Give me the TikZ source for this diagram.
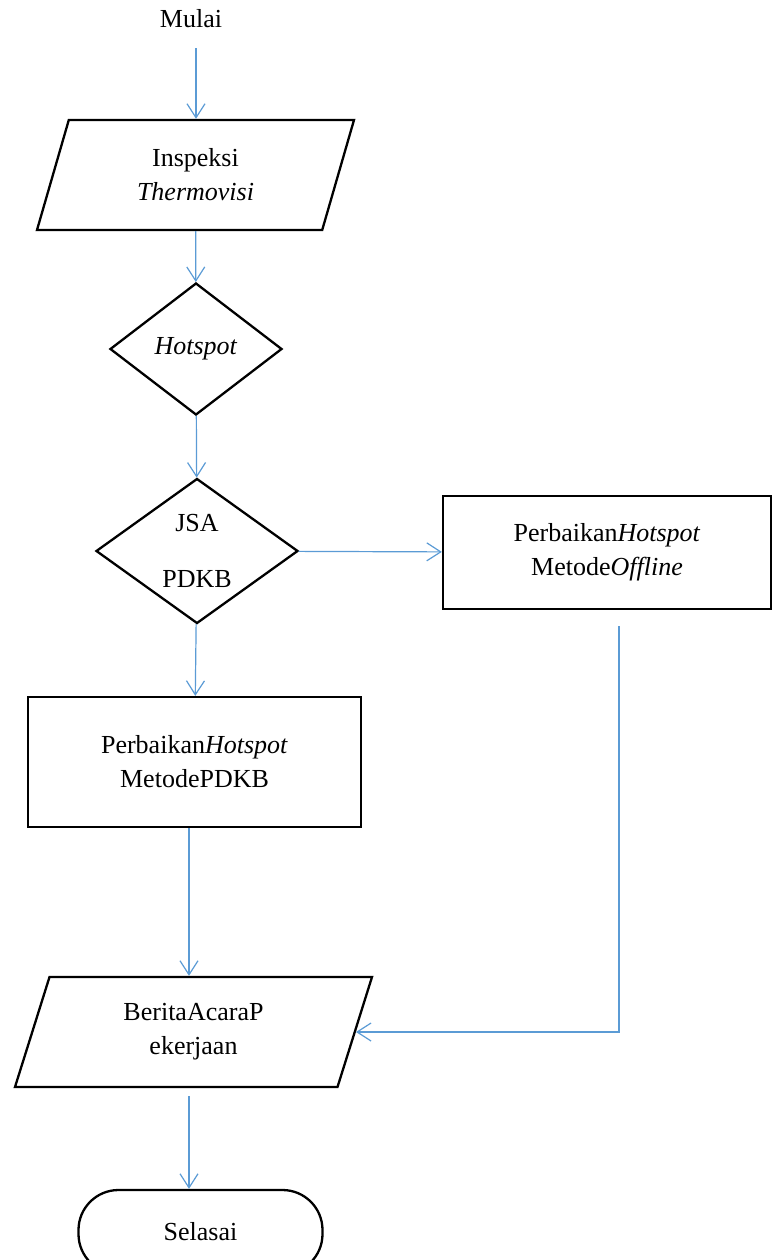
\documentclass[tikz,border=0pt]{standalone}
\usepackage{fontspec}
\setmainfont{Liberation Serif}
\usetikzlibrary{arrows.meta,shapes.geometric}
\definecolor{flowblue}{RGB}{91,155,213}
\begin{document}
\begin{tikzpicture}[x=1pt,y=-1pt,
    font=\fontsize{26}{34}\selectfont,
    box/.style={draw,line width=2.3pt,align=center,inner sep=0pt},
    io/.style={box,trapezium,trapezium left angle=58.7,trapezium right angle=121.3,
      trapezium stretches body,minimum height=110pt},
    decision/.style={box,diamond},
    process/.style={box,rectangle},
    flow/.style={draw=flowblue,line width=1.2pt,-{Straight Barb[length=14pt,width=18pt]}}]
  \useasboundingbox (0,0) rectangle (771,1260);
  \node[minimum height=58pt,inner sep=0pt] (start) at (191,19) {Mulai};
  \node[io,minimum width=317pt] (insp) at (195.5,175) {Inspeksi\\\textit{Thermovisi}};
  \node[decision,minimum width=172pt,minimum height=132pt] (hot) at (196,349) {\textit{Hotspot}};
  \node[decision,minimum width=202pt,minimum height=145pt] (jsa) at (197,551) {JSA\\[22pt]PDKB};
  \node[process,minimum width=328pt,minimum height=113pt] (off) at (607,552.5)
    {Perbaikan\textit{Hotspot}\\Metode\textit{Offline}};
  \node[process,minimum width=333pt,minimum height=130pt] (pdkb) at (194.5,762)
    {Perbaikan\textit{Hotspot}\\MetodePDKB};
  \node[io,minimum width=357pt] (berita) at (193.5,1032) {BeritaAcaraP\\ekerjaan};
  \node[box,rounded corners=40pt,minimum width=244pt,minimum height=84pt] (stop) at (200.5,1232) {Selasai};
  \coordinate (topcol) at (196,0);
  \coordinate (leftcol) at (189,0);
  \coordinate (offcol) at (619,0);
  \draw[flow] (start.south -| topcol) -- (insp.north -| topcol);
  \draw[flow] (insp) -- (hot);
  \draw[flow] (hot) -- (jsa);
  \draw[flow] (jsa) -- (off);
  \draw[flow] (jsa) -- (pdkb);
  \draw[flow] (pdkb.south -| leftcol) -- (berita.north -| leftcol);
  \draw[flow,shorten <=16pt] (off.south -| offcol) |- (berita.east);
  \draw[flow,shorten <=8pt] (berita.south -| leftcol) -- (stop.north -| leftcol);
\end{tikzpicture}
\end{document}
